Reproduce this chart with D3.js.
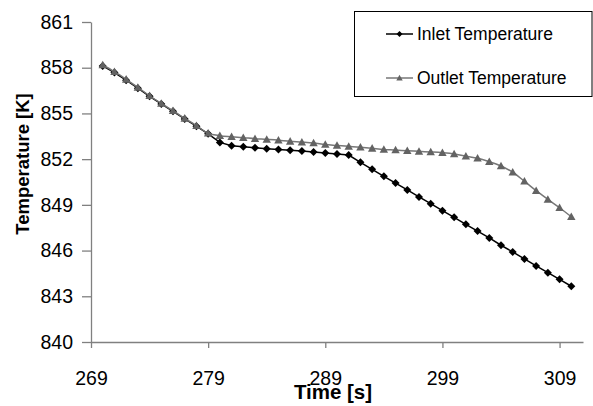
<!DOCTYPE html>
<html>
<head>
<meta charset="utf-8">
<script src="https://cdn.jsdelivr.net/npm/d3@7/dist/d3.min.js"></script>
<style>
  html, body { margin: 0; padding: 0; background: #fff; }
  svg { display: block; font-family: "Liberation Sans", Arial, sans-serif; }
</style>
</head>
<body>
<svg id="chart" width="593" height="406"></svg>
<script>
const times = [270,271,272,273,274,275,276,277,278,279,280,281,282,283,284,285,286,287,288,289,290,
               291,292,293,294,295,296,297,298,299,300,301,302,303,304,305,306,307,308,309,310];
const inletTemps = [858.12,857.68,857.18,856.66,856.12,855.62,855.14,854.64,854.16,853.66,853.10,
                    852.88,852.82,852.75,852.69,852.64,852.58,852.53,852.47,852.40,852.34,
                    852.27,851.79,851.33,850.87,850.43,849.98,849.52,849.08,848.62,848.18,
                    847.72,847.28,846.83,846.35,845.91,845.45,844.99,844.55,844.11,843.66];
const outletTemps = [858.18,857.74,857.24,856.71,856.16,855.66,855.18,854.68,854.20,853.70,853.54,
                     853.47,853.41,853.34,853.30,853.24,853.17,853.12,853.06,852.96,852.90,
                     852.84,852.78,852.71,852.64,852.60,852.55,852.51,852.47,852.42,852.34,
                     852.19,852.06,851.83,851.55,851.14,850.55,849.93,849.36,848.81,848.22];
const yTicks = [840,843,846,849,852,855,858,861];
const xTicks = [269,279,289,299,309];
const seriesNames = ["Inlet Temperature","Outlet Temperature"];

const svg = d3.select("#chart");
const x = d3.scaleLinear().domain([269, 311]).range([91, 583]);
const y = d3.scaleLinear().domain([840, 861]).range([342, 22]);
const axisColor = "#808080";

// Y axis
const gy = svg.append("g").attr("transform", "translate(91,0)")
  .call(d3.axisLeft(y).tickValues(yTicks).tickSize(9).tickSizeOuter(0).tickPadding(9).tickFormat(d3.format("d")));
gy.selectAll("path.domain").attr("stroke", axisColor).attr("stroke-width", 1.3);
gy.selectAll(".tick line").attr("stroke", axisColor).attr("stroke-width", 1.3);
gy.selectAll(".tick text").attr("font-size", 19.5).attr("fill", "#000")
  .attr("font-family", "Liberation Sans, Arial, sans-serif");

// X axis
const gx = svg.append("g").attr("transform", "translate(0,342)")
  .call(d3.axisBottom(x).tickValues(xTicks).tickSize(6).tickSizeOuter(0).tickPadding(23).tickFormat(d3.format("d")));
gx.selectAll("path.domain").attr("stroke", axisColor).attr("stroke-width", 1.3);
gx.selectAll(".tick line").attr("stroke", axisColor).attr("stroke-width", 1.3);
gx.selectAll(".tick text").attr("font-size", 19.5).attr("fill", "#000")
  .attr("font-family", "Liberation Sans, Arial, sans-serif");

// Axis titles
svg.append("text").attr("x", 333).attr("y", 399).attr("text-anchor", "middle")
  .attr("font-size", 20.5).attr("font-weight", "bold").text("Time [s]");
svg.append("text").attr("transform", "translate(29,164) rotate(-90)").attr("text-anchor", "middle")
  .attr("font-size", 18.5).attr("font-weight", "bold").text("Temperature [K]");

const diamond = (s) => `M0,${-s}L${s},0L0,${s}L${-s},0Z`;
const triangle = (s) => `M0,${-s}L${s},${s*0.8}L${-s},${s*0.8}Z`;

const inletData = times.map((t, i) => [t, inletTemps[i]]);
const outletData = times.map((t, i) => [t, outletTemps[i]]);
const line = d3.line().x(d => x(d[0])).y(d => y(d[1]));

// Inlet series
svg.append("path").datum(inletData).attr("d", line)
  .attr("fill", "none").attr("stroke", "#000").attr("stroke-width", 1.5);
svg.append("g").selectAll("path").data(inletData).join("path")
  .attr("transform", d => `translate(${x(d[0])},${y(d[1])})`)
  .attr("d", diamond(4)).attr("fill", "#000");

// Outlet series
svg.append("path").datum(outletData).attr("d", line.curve(d3.curveMonotoneX))
  .attr("fill", "none").attr("stroke", "#777").attr("stroke-width", 1.5);
svg.append("g").selectAll("path").data(outletData).join("path")
  .attr("transform", d => `translate(${x(d[0])},${y(d[1])})`)
  .attr("d", triangle(4.2)).attr("fill", "#636363");

// Legend
const lg = svg.append("g");
lg.append("rect").attr("x", 354.5).attr("y", 11.5).attr("width", 237.5).attr("height", 85)
  .attr("fill", "#fff").attr("stroke", "#000").attr("stroke-width", 1);
const legendRows = [
  {name: seriesNames[0], color: "#000", shape: diamond(3), mfill: "#000", cy: 34},
  {name: seriesNames[1], color: "#777", shape: triangle(3.2), mfill: "#636363", cy: 78}
];
legendRows.forEach(r => {
  lg.append("line").attr("x1", 386).attr("x2", 413).attr("y1", r.cy).attr("y2", r.cy)
    .attr("stroke", r.color).attr("stroke-width", 1.5);
  lg.append("path").attr("transform", `translate(399.5,${r.cy})`).attr("d", r.shape).attr("fill", r.mfill);
  lg.append("text").attr("x", 417).attr("y", r.cy + 6).attr("font-size", 17.5).attr("fill", "#000").text(r.name);
});
</script>
</body>
</html>
